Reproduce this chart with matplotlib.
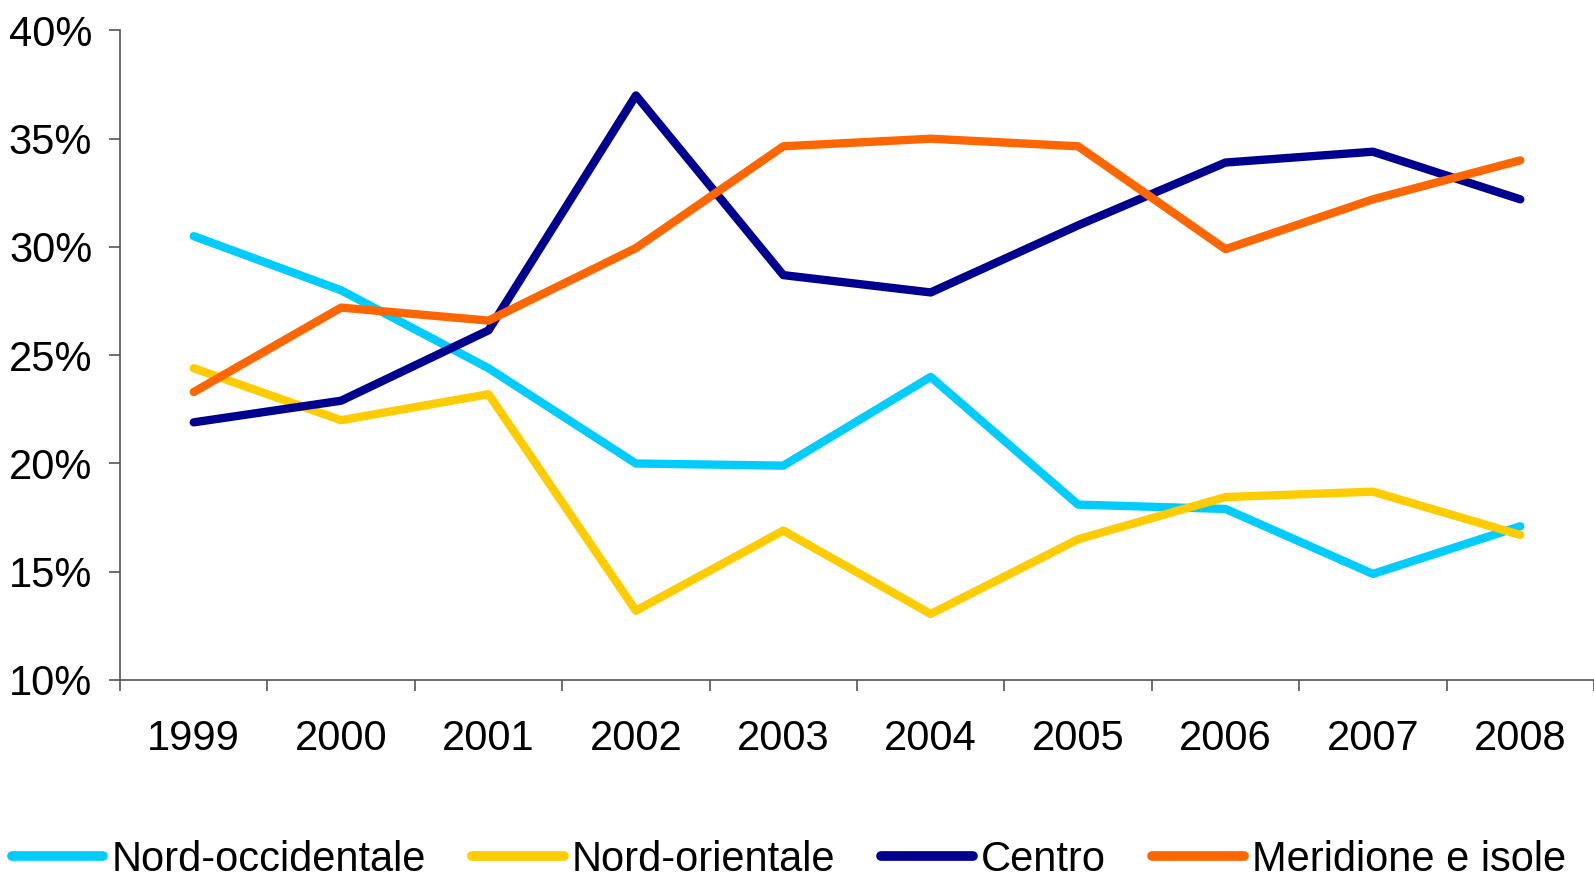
import matplotlib
matplotlib.use('Agg')
import matplotlib.pyplot as plt
import numpy as np
from matplotlib.ticker import FixedLocator, PercentFormatter

plt.rcParams['font.family'] = ['Liberation Sans', 'DejaVu Sans']

anni = ['1999', '2000', '2001', '2002', '2003', '2004', '2005', '2006', '2007', '2008']
nord_occ = [30.5, 28.0, 24.4, 20.0, 19.9, 24.0, 18.1, 17.9, 14.9, 17.1]
nord_ori = [24.4, 22.0, 23.2, 13.2, 16.9, 13.05, 16.5, 18.45, 18.7, 16.7]
centro = [21.9, 22.9, 26.15, 37.0, 28.7, 27.9, 31.0, 33.9, 34.4, 32.2]
meridione = [23.3, 27.2, 26.6, 29.95, 34.65, 35.0, 34.65, 29.9, 32.2, 34.0]

serie = [
    ('Nord-occidentale', nord_occ, '#00CCFF'),
    ('Nord-orientale', nord_ori, '#FFCC00'),
    ('Centro', centro, '#000090'),
    ('Meridione e isole', meridione, '#FF6600'),
]

fig = plt.figure(figsize=(15.94, 8.83), dpi=100)
ax = fig.add_axes([0.0753, 0.2299, 0.9247, 0.7356])

x = np.arange(len(anni))
for nome, valori, colore in serie:
    ax.plot(x, valori, color=colore, linewidth=6, label=nome,
            solid_capstyle='round', solid_joinstyle='round')

ax.set_xlim(-0.5, len(anni) - 0.5)
ax.set_ylim(10, 40)
ax.set_yticks(range(10, 41, 5))
ax.yaxis.set_major_formatter(PercentFormatter(decimals=0))
ax.set_xticks(x)
ax.set_xticklabels(anni)
ax.xaxis.set_minor_locator(FixedLocator(np.arange(-0.5, len(anni), 1.0)))

ax.tick_params(axis='x', which='major', length=0, pad=28, labelsize=30)
ax.tick_params(axis='x', which='minor', length=8, width=1.2, color='#555555', direction='out')
ax.tick_params(axis='y', length=8, width=1.2, color='#555555', pad=12, labelsize=30)

for s in ['top', 'right']:
    ax.spines[s].set_visible(False)
for s in ['left', 'bottom']:
    ax.spines[s].set_color('#555555')
    ax.spines[s].set_linewidth(1.2)

leg = fig.legend(loc='center', bbox_to_anchor=(0.495, 0.026), ncol=4, frameon=False,
                 fontsize=30, handlelength=2.2, handletextpad=0.2, columnspacing=1.1,
                 borderpad=0.1)
for h in leg.get_lines():
    h.set_linewidth(7)
    h.set_solid_capstyle('round')

fig.savefig('out.png', dpi=100)
